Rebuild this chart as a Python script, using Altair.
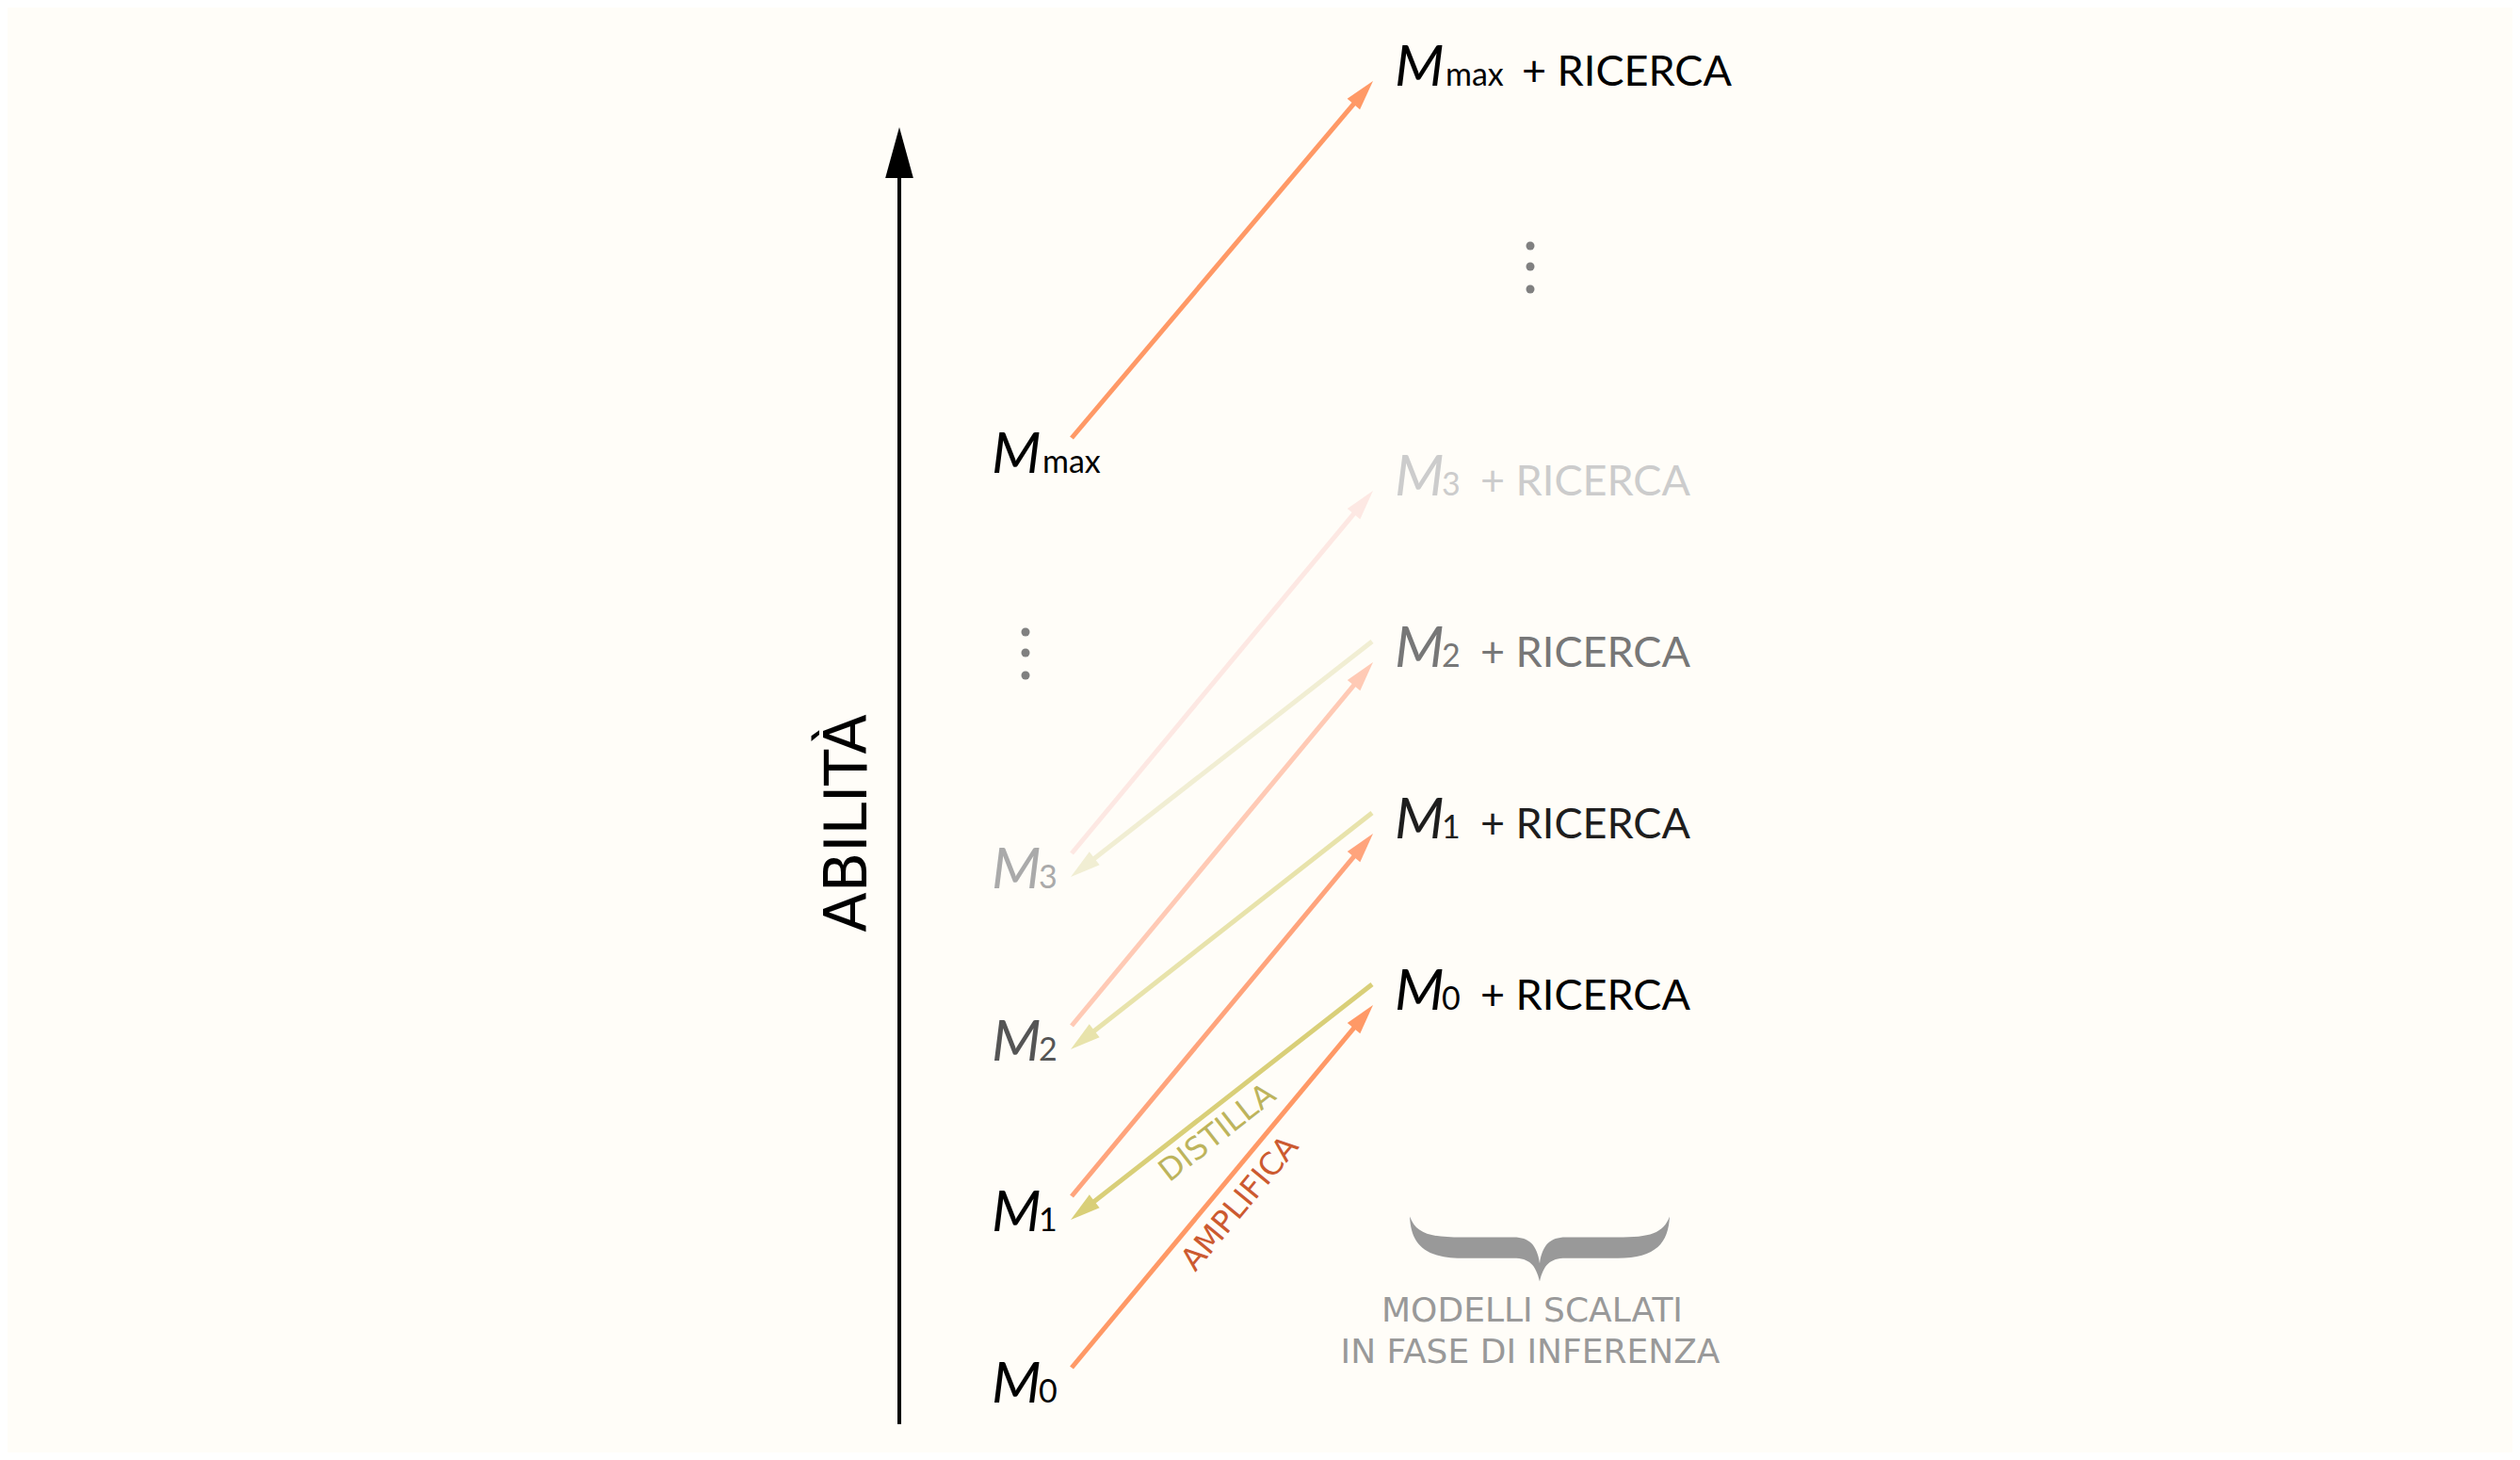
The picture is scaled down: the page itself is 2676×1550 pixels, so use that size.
import math
import altair as alt
import pandas as pd

# ---------------- data (in picture pixels) ----------------
model_subs = ["0", "1", "2", "3", "max"]
left_baseline = [1489, 1307, 1126, 943, 502]       # baselines of M_i labels (left column)
right_baseline = [1072, 890, 708, 526, 91]         # baselines of M_i + RICERCA labels
left_colors = ["#000000", "#000000", "#555555", "#aaaaaa", "#000000"]
right_colors = ["#000000", "#1e1e1e", "#777777", "#cccccc", "#000000"]
amplify_colors = ["#ff9966", "#ffa47c", "#ffcab5", "#fde8e3", "#ff9966"]
distill_colors = ["#d9cf78", "#e8e3ab", "#f1eed3"]

left_label_x = 1053
right_label_x = 1481
sub_offset = [50, 50, 50, 50, 54]
plus_x = [1572, 1572, 1572, 1572, 1616]
search_text = "+ RICERCA"

arrow_left_x = 1138
arrow_right_x = 1458
amp_start_dy, amp_end_dy = -37, -5
dist_start_dy, dist_end_dy = -27, -12

axis_x, axis_bottom, axis_tip = 955, 1512, 135
axis_title = "ABILITÀ"
axis_title_pos = (901, 874)

dots_left = ([1089, 1089, 1089], [671, 693, 717])
dots_right = ([1625, 1625, 1625], [261, 283, 307])

ann_text = ["DISTILLA", "AMPLIFICA"]
ann_x = [1293, 1317]
ann_y = [1203, 1278]
ann_colors = ["#bdb45c", "#cc5a30"]

brace_pos = (1635, 1326)
bottom_lines = ["MODELLI SCALATI", "IN FASE DI INFERENZA"]
bottom_x = [1627, 1625]
bottom_y = [1403, 1447]

BG = "#fffdf8"
W, H = 2660, 1534
HEAD_PATH = "M 0 0 L 0.55 2 L -0.55 2 Z"
BRACE_PATH = ("M -1 -0.25 C -0.95 -0.12 -0.85 -0.09 -0.6 -0.09 L -0.2 -0.09 "
              "C -0.08 -0.09 -0.02 -0.03 0 0.11 C 0.02 -0.03 0.08 -0.09 0.2 -0.09 "
              "L 0.6 -0.09 C 0.85 -0.09 0.95 -0.12 1 -0.25 "
              "C 0.99 -0.05 0.9 0.07 0.6 0.07 L 0.2 0.07 C 0.08 0.07 0.03 0.12 0 0.25 "
              "C -0.03 0.12 -0.08 0.07 -0.2 0.07 L -0.6 0.07 C -0.9 0.07 -0.99 -0.05 -1 -0.25 Z")

# ---------------- build tables ----------------
arrows = []
for i in range(5):
    arrows.append(dict(x1=arrow_left_x, y1=left_baseline[i] + amp_start_dy,
                       x2=arrow_right_x, y2=right_baseline[i] + amp_end_dy,
                       color=amplify_colors[i]))
for i in range(3):
    arrows.append(dict(x1=arrow_right_x - 1, y1=right_baseline[i] + dist_start_dy,
                       x2=arrow_left_x - 1, y2=left_baseline[i + 1] + dist_end_dy,
                       color=distill_colors[i]))
arr = pd.DataFrame(arrows)
dx = arr.x2 - arr.x1
dy = arr.y2 - arr.y1
L = (dx ** 2 + dy ** 2) ** 0.5
arr["lx2"] = arr.x2 - dx / L * 22
arr["ly2"] = arr.y2 - dy / L * 22
arr["angle"] = [math.degrees(math.atan2(a, -b)) % 360 for a, b in zip(dx, dy)]


def rise_angle(row):
    """Text angle (clockwise degrees, non-negative) that follows a line rising to the right."""
    ddx = abs(row.x2 - row.x1)
    ddy = abs(row.y2 - row.y1)
    return (360 - math.degrees(math.atan2(ddy, ddx))) % 360


X = lambda f: alt.X(f, type="quantitative", scale=alt.Scale(domain=[8, 8 + W], nice=False, zero=False), axis=None)
Y = lambda f: alt.Y(f, type="quantitative", scale=alt.Scale(domain=[8, 8 + H], nice=False, zero=False, reverse=True), axis=None)

# axis
axis_df = pd.DataFrame({"x": [axis_x], "y": [axis_bottom], "y2": [axis_tip + 50], "yt": [axis_tip], "a": [0]})
axis_line = alt.Chart(axis_df).mark_rule(color="black", strokeWidth=4).encode(
    x=X("x"), y=Y("y"), y2="y2")
axis_head = alt.Chart(axis_df).mark_point(shape=HEAD_PATH, size=2916, filled=True,
                                          color="black", opacity=1, strokeWidth=0).encode(
    x=X("x"), y=Y("yt"), angle=alt.Angle("a:Q", scale=None))
axis_lbl = alt.Chart(pd.DataFrame({"x": [axis_title_pos[0]], "y": [axis_title_pos[1]], "t": [axis_title]})).mark_text(
    font="DejaVu Sans", fontSize=62, angle=270, align="center", baseline="middle", color="black").encode(
    x=X("x"), y=Y("y"), text="t:N")

# arrows
arrow_lines = alt.Chart(arr).mark_rule(strokeWidth=5, strokeCap="butt").encode(
    x=X("x1"), y=Y("y1"), x2="lx2", y2="ly2", color=alt.Color("color:N", scale=None))
arrow_heads = alt.Chart(arr).mark_point(shape=HEAD_PATH, size=1024, filled=True, opacity=1, strokeWidth=0).encode(
    x=X("x2"), y=Y("y2"), angle=alt.Angle("angle:Q", scale=None), color=alt.Color("color:N", scale=None))

# labels
lab = pd.DataFrame({
    "sub": model_subs, "lb": left_baseline, "rb": right_baseline,
    "lc": left_colors, "rc": right_colors,
    "lx": [left_label_x] * 5, "rx": [right_label_x] * 5,
    "lsx": [left_label_x + o for o in sub_offset], "rsx": [right_label_x + o for o in sub_offset],
    "px": plus_x, "M": ["M"] * 5, "plus": [search_text] * 5,
})
base = alt.Chart(lab)
m_kw = dict(font="Lato", fontStyle="italic", fontSize=61, align="left", baseline="alphabetic")
s_kw = dict(font="Lato", fontSize=34, align="left", baseline="alphabetic")
left_M = base.mark_text(**m_kw).encode(x=X("lx"), y=Y("lb"), text="M:N", color=alt.Color("lc:N", scale=None))
left_S = base.mark_text(**s_kw).encode(x=X("lsx"), y=Y("lb"), text="sub:N", color=alt.Color("lc:N", scale=None))
right_M = base.mark_text(**m_kw).encode(x=X("rx"), y=Y("rb"), text="M:N", color=alt.Color("rc:N", scale=None))
right_S = base.mark_text(**s_kw).encode(x=X("rsx"), y=Y("rb"), text="sub:N", color=alt.Color("rc:N", scale=None))
right_P = base.mark_text(font="Lato", fontSize=45, align="left", baseline="alphabetic").encode(
    x=X("px"), y=Y("rb"), text="plus:N", color=alt.Color("rc:N", scale=None))

# dots
dots = pd.DataFrame({"x": dots_left[0] + dots_right[0], "y": dots_left[1] + dots_right[1]})
dot_layer = alt.Chart(dots).mark_circle(size=81, color="#808080", opacity=1).encode(x=X("x"), y=Y("y"))

# annotations (DISTILLA follows the first distill arrow, AMPLIFICA the first amplify arrow)
ann = pd.DataFrame({"t": ann_text, "x": ann_x, "y": ann_y, "c": ann_colors,
                    "a": [rise_angle(arr.iloc[5]), rise_angle(arr.iloc[0])]})
ann_layer = alt.Chart(ann).mark_text(font="DejaVu Sans", fontSize=33, align="center", baseline="middle").encode(
    x=X("x"), y=Y("y"), text="t:N", angle=alt.Angle("a:Q", scale=None), color=alt.Color("c:N", scale=None))

# brace + bottom text
brace = alt.Chart(pd.DataFrame({"x": [brace_pos[0]], "y": [brace_pos[1]]})).mark_point(
    shape=BRACE_PATH, size=276 * 276, filled=True, color="#999999", opacity=1, strokeWidth=0).encode(
    x=X("x"), y=Y("y"))
bottom = alt.Chart(pd.DataFrame({"t": bottom_lines, "x": bottom_x, "y": bottom_y})).mark_text(
    font="DejaVu Sans", fontSize=36, align="center", baseline="alphabetic", color="#999999").encode(
    x=X("x"), y=Y("y"), text="t:N")

chart = alt.layer(
    axis_line, axis_head, axis_lbl, arrow_lines, arrow_heads,
    left_M, left_S, right_M, right_S, right_P, dot_layer, ann_layer, brace, bottom,
).properties(
    width=W, height=H, background=BG, padding=0,
    autosize=alt.AutoSizeParams(type="fit", contains="padding"),
).configure_view(strokeWidth=0)

chart.save("out.html", embed_options={"renderer": "svg", "actions": False})
